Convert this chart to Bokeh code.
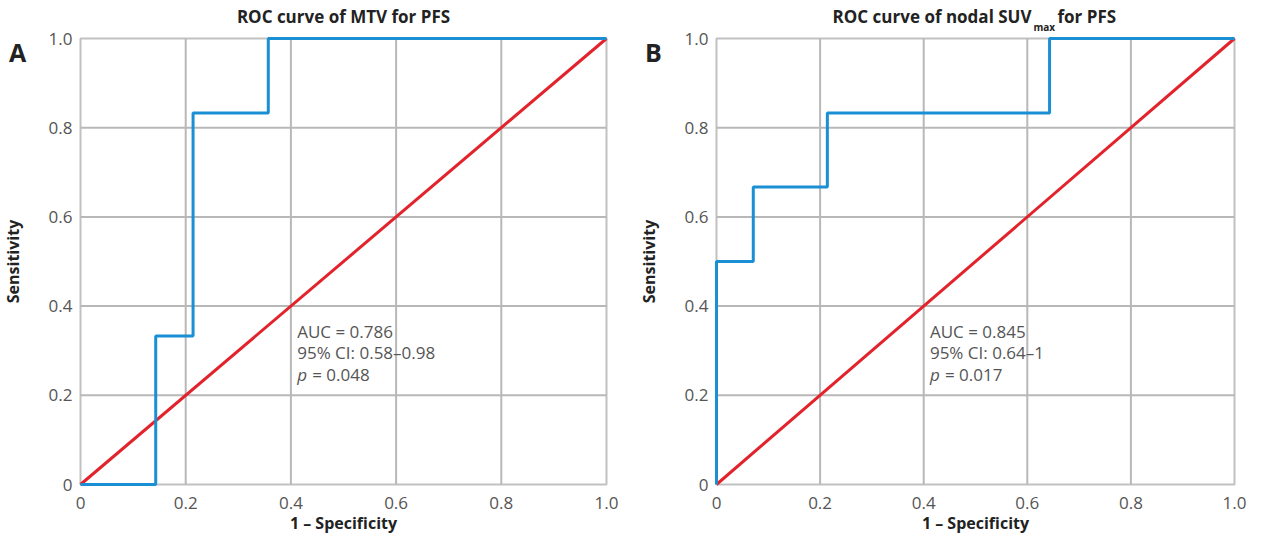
import math
from bokeh.plotting import figure
from bokeh.layouts import row
from bokeh.models import Range1d, BoxAnnotation
from bokeh.core.properties import value
from bokeh.embed import file_html
from bokeh.resources import INLINE

# ---- data ----
fpr_a = [0.0, 0.143, 0.143, 0.214, 0.214, 0.357, 0.357, 1.0]
tpr_a = [0.0, 0.0, 0.333, 0.333, 0.833, 0.833, 1.0, 1.0]
fpr_b = [0.0, 0.0, 0.071, 0.071, 0.214, 0.214, 0.643, 0.643, 1.0]
tpr_b = [0.0, 0.5, 0.5, 0.667, 0.667, 0.833, 0.833, 1.0, 1.0]
ref_x = [0.0, 1.0]
ref_y = [0.0, 1.0]
ticks = [0.0, 0.2, 0.4, 0.6, 0.8, 1.0]
tick_labels = ["0", "0.2", "0.4", "0.6", "0.8", "1.0"]
grid_ticks = [0.2, 0.4, 0.6, 0.8]
stats_a = ["AUC = 0.786", "95% CI: 0.58\u20130.98", "= 0.048"]
stats_b = ["AUC = 0.845", "95% CI: 0.64\u20131", "= 0.017"]

FONT = value("Open Sans")
BLUE = "#1a8fd3"
RED = "#e2232b"
GRID = "#b8b8b8"
DARK = "#333333"
TXT = "#555555"
HEAD = "#222222"

FIG_H = 535
TOP = 38          # px from figure top to y = 1
FRAME_H = 446     # px between y = 1 and y = 0


def make_fig(letter, fpr, tpr, stats, fig_w, left, frame_w):
    y0 = -(FIG_H - TOP - FRAME_H) / FRAME_H
    y1 = 1 + TOP / FRAME_H
    x0 = -left / frame_w
    x1 = (fig_w - left) / frame_w
    p = figure(width=fig_w, height=FIG_H, min_border=0,
               x_range=Range1d(x0, x1), y_range=Range1d(y0, y1),
               x_axis_type=None, y_axis_type=None,
               output_backend="svg", toolbar_location=None,
               background_fill_color="white", border_fill_color="white")
    p.outline_line_color = None
    p.grid.visible = False

    n = len(grid_ticks)
    # vertical and horizontal grid lines, limited to the plotting box
    p.segment(x0=grid_ticks, y0=[0] * n, x1=grid_ticks, y1=[1] * n,
              line_color=GRID, line_width=2)
    p.segment(x0=[0] * n, y0=grid_ticks, x1=[1] * n, y1=grid_ticks,
              line_color=GRID, line_width=2)
    p.add_layout(BoxAnnotation(left=0, right=1, bottom=0, top=1, fill_alpha=0,
                               line_color=DARK, line_width=2, level="underlay"))

    p.line(ref_x, ref_y, line_color=RED, line_width=3)
    p.line(fpr, tpr, line_color=BLUE, line_width=3)

    # tick labels
    p.text(x=[0] * len(ticks), y=ticks, text=tick_labels, x_offset=-8,
           text_font=FONT, text_font_size="17px", text_color=TXT,
           text_align="right", text_baseline="middle")
    p.text(x=ticks, y=[0] * len(ticks), text=tick_labels, y_offset=18,
           text_font=FONT, text_font_size="17px", text_color=TXT,
           text_align="center", text_baseline="middle")
    # axis labels
    p.text(x=[0.5], y=[0], text=["1 \u2013 Specificity"], y_offset=38,
           text_font=FONT, text_font_size="16px", text_font_style="bold",
           text_color=HEAD, text_align="center", text_baseline="middle")
    p.text(x=[0], y=[0.5], text=["Sensitivity"], x_offset=-68, angle=math.pi / 2,
           text_font=FONT, text_font_size="16px", text_font_style="bold",
           text_color=HEAD, text_align="center", text_baseline="middle")
    # panel letter
    p.text(x=[0], y=[1], text=[letter], x_offset=-63, y_offset=13,
           text_font=FONT, text_font_size="25px", text_font_style="bold",
           text_color=HEAD, text_align="center", text_baseline="middle")
    # statistics
    ys = [0.343, 0.295, 0.247]
    p.text(x=[0.412, 0.412], y=ys[:2], text=stats[:2],
           text_font=FONT, text_font_size="17px", text_color=TXT,
           text_baseline="middle")
    p.text(x=[0.412], y=[ys[2]], text=["p"], text_font=FONT, text_font_size="17px",
           text_font_style="italic", text_color=TXT, text_baseline="middle")
    p.text(x=[0.412], y=[ys[2]], text=[stats[2]], x_offset=15, text_font=FONT,
           text_font_size="17px", text_color=TXT, text_baseline="middle")
    return p


pa = make_fig("A", fpr_a, tpr_a, stats_a, 636, 80, 526)
pb = make_fig("B", fpr_b, tpr_b, stats_b, 611, 80, 518)

title_kw = dict(text_font=FONT, text_font_style="bold", text_color=HEAD,
                text_baseline="middle")
pa.text(x=[0.5], y=[1], text=["ROC curve of MTV for PFS"], y_offset=-22,
        text_font_size="17px", text_align="center", **title_kw)
pb.text(x=[0.5], y=[1], text=["ROC curve of nodal SUV"], y_offset=-22, x_offset=56,
        text_font_size="17px", text_align="right", **title_kw)
pb.text(x=[0.5], y=[1], text=["max"], y_offset=-12, x_offset=58,
        text_font_size="10px", text_align="left", **title_kw)
pb.text(x=[0.5], y=[1], text=["for PFS"], y_offset=-22, x_offset=82,
        text_font_size="17px", text_align="left", **title_kw)

layout = row(pa, pb)
open("out.html", "w").write(file_html(layout, INLINE))
